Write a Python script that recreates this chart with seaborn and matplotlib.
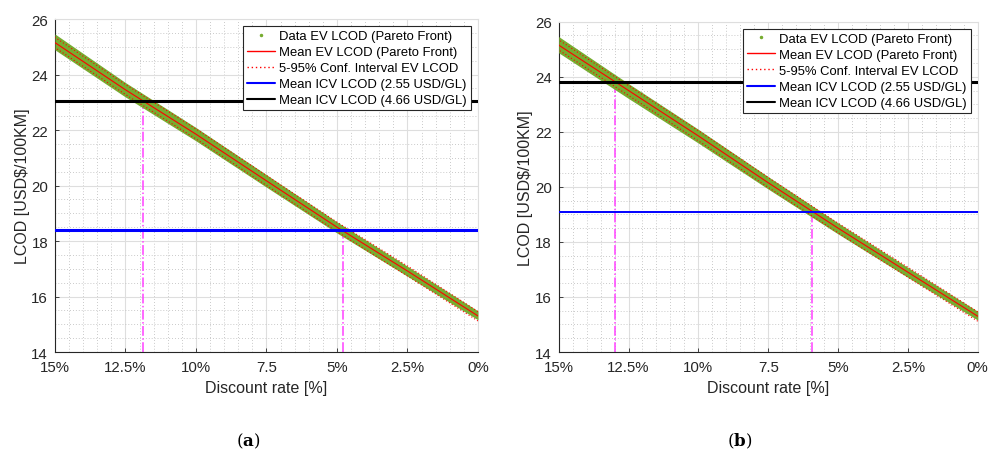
import matplotlib
matplotlib.use("Agg")
import matplotlib.pyplot as plt
import seaborn as sns
import pandas as pd
from matplotlib.lines import Line2D
from matplotlib.ticker import MultipleLocator

# ---------------- data ----------------
rates = [0, 2.5, 5, 7.5, 10, 12.5, 15]

a_mean = [15.30, 16.92, 18.50, 20.17, 21.85, 23.45, 25.15]
a_ci_lo = [15.12, 16.74, 18.34, 20.00, 21.68, 23.28, 24.97]
a_ci_hi = [15.46, 17.10, 18.68, 20.36, 22.04, 23.64, 25.34]
a_band_lo = [15.16, 16.73, 18.29, 19.94, 21.61, 23.19, 24.89]
a_band_hi = [15.48, 17.09, 18.69, 20.39, 22.09, 23.71, 25.46]
a_icv_low = 18.38     # 2.55 USD/GL
a_icv_high = 23.05    # 4.66 USD/GL
a_cross = [4.8, 11.87]

b_mean = [15.30, 16.90, 18.50, 20.15, 21.85, 23.50, 25.15]
b_ci_lo = [15.12, 16.72, 18.33, 19.98, 21.67, 23.32, 24.97]
b_ci_hi = [15.46, 17.08, 18.68, 20.34, 22.04, 23.68, 25.34]
b_band_lo = [15.16, 16.71, 18.29, 19.92, 21.59, 23.21, 24.87]
b_band_hi = [15.48, 17.07, 18.69, 20.37, 22.09, 23.75, 25.46]
b_icv_low = 19.07
b_icv_high = 23.80
b_cross = [5.93, 12.98]

xtick_vals = [15, 12.5, 10, 7.5, 5, 2.5, 0]
xtick_labels = ["15%", "12.5%", "10%", "7.5", "5%", "2.5%", "0%"]
ytick_vals = [14, 16, 18, 20, 22, 24, 26]

legend_labels = ["Data EV LCOD (Pareto Front)", "Mean EV LCOD (Pareto Front)",
                 "5-95% Conf. Interval EV LCOD", "Mean ICV LCOD (2.55 USD/GL)",
                 "Mean ICV LCOD (4.66 USD/GL)"]
panel_labels = ["a", "b"]

# ---------------- style ----------------
sns.set_theme(style="white")
plt.rcParams["font.family"] = ["Liberation Sans", "DejaVu Sans"]
TXT = "#262626"
GREEN = "#77AC30"

fig = plt.figure(figsize=(9.92, 4.52), dpi=100)
ax_a = fig.add_axes([0.0554, 0.219, 0.4264, 0.7367])
ax_b = fig.add_axes([0.5632, 0.219, 0.4224, 0.7308])


def draw(ax, mean, ci_lo, ci_hi, band_lo, band_hi, icv_low, icv_high, cross, blue_lw):
    df = pd.DataFrame({"rate": rates, "mean": mean, "lo": ci_lo, "hi": ci_hi})
    # vertical magenta guides
    for xc, yc in zip(cross, [icv_low, icv_high]):
        ax.plot([xc, xc], [14, yc], color="#FF40FF", lw=1.1, ls="-.", zorder=2)
    ax.fill_between(rates, band_lo, band_hi, color=GREEN, lw=0, zorder=3)
    sns.lineplot(data=df, x="rate", y="mean", ax=ax, color="red", lw=0.8, zorder=5, legend=False)
    sns.lineplot(data=df, x="rate", y="lo", ax=ax, color="red", lw=0.8, ls=(0, (1, 2)), zorder=4, legend=False)
    sns.lineplot(data=df, x="rate", y="hi", ax=ax, color="red", lw=0.8, ls=(0, (1, 2)), zorder=4, legend=False)
    ax.axhline(icv_low, color="#0000FF", lw=blue_lw, zorder=6)
    ax.axhline(icv_high, color="black", lw=2.2, zorder=6)

    ax.set_xlim(15, 0)
    ax.set_ylim(14, 26)
    ax.set_xticks(xtick_vals)
    ax.set_xticklabels(xtick_labels)
    ax.set_yticks(ytick_vals)
    ax.xaxis.set_minor_locator(MultipleLocator(0.5))
    ax.yaxis.set_minor_locator(MultipleLocator(0.5))
    ax.grid(True, which="major", color="#dedede", lw=0.8, ls="-", zorder=0)
    ax.grid(True, which="minor", color="#b8b8b8", lw=0.6, ls=(0, (1, 2.5)), zorder=0)
    ax.set_axisbelow(True)
    ax.tick_params(axis="both", which="major", direction="in", length=3, width=0.6,
                   colors=TXT, labelsize=10.8, bottom=True, left=True)
    ax.tick_params(axis="x", which="major", pad=6)
    ax.tick_params(axis="y", which="major", pad=5)
    ax.tick_params(axis="both", which="minor", length=0)
    for s in ["left", "bottom"]:
        ax.spines[s].set_color(TXT)
        ax.spines[s].set_linewidth(0.8)
    for s in ["top", "right"]:
        ax.spines[s].set_color("#dedede")
        ax.spines[s].set_linewidth(0.8)
    ax.set_xlabel("Discount rate [%]", fontsize=11.5, color=TXT, labelpad=4)
    ax.set_ylabel("LCOD [USD\\$/100KM]", fontsize=11.5, color=TXT, labelpad=1)

    handles = [
        Line2D([], [], ls="none", marker=".", ms=3, color=GREEN),
        Line2D([], [], color="red", lw=1.0),
        Line2D([], [], color="red", lw=1.0, ls=(0, (1, 2))),
        Line2D([], [], color="#0000FF", lw=1.5),
        Line2D([], [], color="black", lw=1.5),
    ]
    leg = ax.legend(handles, legend_labels, loc="upper right", fontsize=9.4,
                    frameon=True, fancybox=False, edgecolor="#262626",
                    framealpha=1, borderaxespad=0.55, labelspacing=0.3,
                    handlelength=2.15, handletextpad=0.3, borderpad=0.3)
    leg.get_frame().set_linewidth(0.8)
    leg.set_zorder(10)
    for t in leg.get_texts():
        t.set_color("black")


draw(ax_a, a_mean, a_ci_lo, a_ci_hi, a_band_lo, a_band_hi, a_icv_low, a_icv_high, a_cross, 2.2)
draw(ax_b, b_mean, b_ci_lo, b_ci_hi, b_band_lo, b_band_hi, b_icv_low, b_icv_high, b_cross, 1.4)

for xc, lab in zip([0.250, 0.746], panel_labels):
    fig.text(xc, 0.024, r"($\mathbf{%s}$)" % lab, ha="center", va="center",
             family="DejaVu Serif", math_fontfamily="dejavuserif", fontsize=12, color="black")

fig.savefig("out.png", dpi=100, facecolor="white")
